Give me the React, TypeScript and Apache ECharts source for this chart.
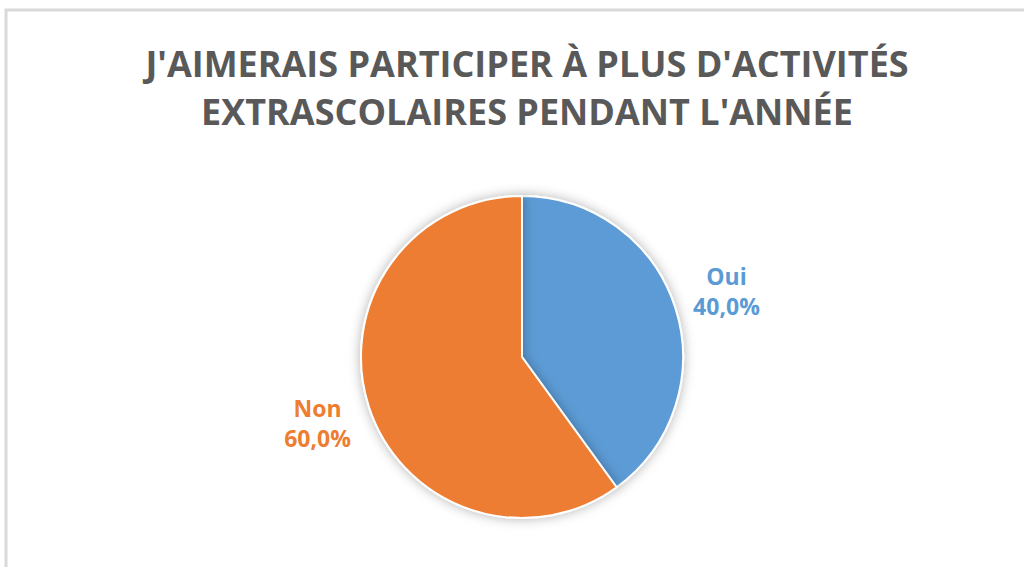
import React, { useEffect, useRef } from "react";
import * as echarts from "echarts";

const TITLE_LINES = ["J'AIMERAIS PARTICIPER À PLUS D'ACTIVITÉS", "EXTRASCOLAIRES PENDANT L'ANNÉE"];
const categories = ["Oui", "Non"];
const values = [40, 60];
const colors = ["#5B9BD5", "#ED7D31"];

const fmt = (p: any) => p.name + "\n" + p.percent.toFixed(1).replace(".", ",") + "%";

export default function App() {
  const ref = useRef<HTMLDivElement>(null);
  useEffect(() => {
    if (!ref.current) return;
    const chart = echarts.init(ref.current, null, { renderer: "svg" });
    const data = categories.map((name, i) => ({
      name,
      value: values[i],
      itemStyle: { color: colors[i] },
    }));
    const labelData = categories.map((name, i) => ({
      name,
      value: values[i],
      label: { color: colors[i] },
    }));
    chart.setOption({
      animation: false,
      backgroundColor: "#ffffff",
      title: {
        text: TITLE_LINES.join("\n"),
        left: 522,
        textAlign: "center",
        top: 34,
        textStyle: {
          fontFamily: "Open Sans",
          fontWeight: "bold",
          fontSize: 36,
          lineHeight: 48,
          color: "#595959",
        },
      },
      graphic: [
        {
          type: "rect",
          shape: { x: 6, y: 10, width: 1040, height: 600 },
          style: { fill: "none", stroke: "#d9d9d9", lineWidth: 3 },
          silent: true,
        },
      ],
      series: [
        {
          type: "pie",
          center: [522, 357],
          radius: 161,
          startAngle: 90,
          clockwise: true,
          silent: true,
          label: { show: false },
          labelLine: { show: false },
          itemStyle: {
            borderColor: "#ffffff",
            borderWidth: 2,
            shadowBlur: 12,
            shadowColor: "rgba(0,0,0,0.3)",
          },
          data,
        },
        {
          type: "pie",
          center: [522, 357],
          radius: [197, 227],
          startAngle: 90,
          clockwise: true,
          silent: true,
          itemStyle: { color: "rgba(0,0,0,0)" },
          label: {
            show: true,
            position: "inside",
            formatter: fmt,
            fontFamily: "Open Sans",
            fontWeight: "bold",
            fontSize: 23,
            lineHeight: 30,
            align: "center",
          },
          labelLine: { show: false },
          data: labelData,
        },
      ],
    });
    return () => chart.dispose();
  }, []);
  return (
    <div
      ref={ref}
      style={{ position: "fixed", left: 0, top: 0, width: 1024, height: 567 }}
    />
  );
}
